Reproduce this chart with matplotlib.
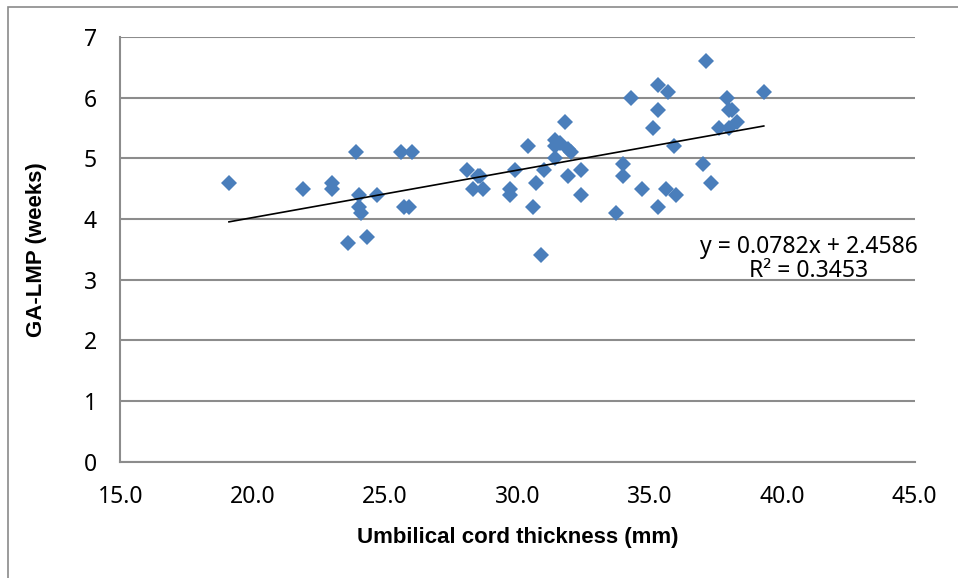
import matplotlib.pyplot as plt
from matplotlib.patches import Rectangle

# umbilical cord thickness (mm) vs GA-LMP (weeks)
thickness = [19.1, 21.9, 23.0, 23.0, 23.9, 24.0, 24.0, 24.1, 23.6, 24.3, 24.7, 25.6, 26.0, 25.7, 25.9,
             28.1, 28.3, 28.5, 28.6, 28.7, 29.7, 29.7, 29.9, 30.4, 30.6, 30.7, 30.9, 31.0,
             31.4, 31.4, 31.4, 31.6, 31.8, 31.9, 32.0, 31.9, 32.4, 32.4,
             33.7, 34.0, 34.0, 34.3, 34.7, 35.1, 35.3, 35.3, 35.3, 35.6, 35.7, 35.9, 36.0,
             37.0, 37.1, 37.3, 37.6, 37.9, 38.0, 38.1, 38.0, 38.3, 39.3]
ga_lmp = [4.6, 4.5, 4.6, 4.5, 5.1, 4.4, 4.2, 4.1, 3.6, 3.7, 4.4, 5.1, 5.1, 4.2, 4.2,
          4.8, 4.5, 4.7, 4.7, 4.5, 4.5, 4.4, 4.8, 5.2, 4.2, 4.6, 3.4, 4.8,
          5.3, 5.2, 5.0, 5.25, 5.6, 5.15, 5.1, 4.7, 4.8, 4.4,
          4.1, 4.9, 4.7, 6.0, 4.5, 5.5, 6.2, 5.8, 4.2, 4.5, 6.1, 5.2, 4.4,
          4.9, 6.6, 4.6, 5.5, 6.0, 5.8, 5.8, 5.5, 5.6, 6.1]
slope, intercept, r2 = 0.0782, 2.4586, 0.3453

x_ticks = [15, 20, 25, 30, 35, 40, 45]
y_ticks = [0, 1, 2, 3, 4, 5, 6, 7]

plt.rcParams['font.family'] = ['Noto Sans', 'DejaVu Sans']

fig = plt.figure(figsize=(9.58, 5.78), dpi=100)
ax = fig.add_axes([120.4 / 958, 1 - 461.7 / 578, 794.3 / 958, 424.8 / 578])

# outer chart border
fig.patches.append(Rectangle((8 / 958, -0.1), 1.2, 1.1 - 7 / 578, transform=fig.transFigure,
                             fill=False, edgecolor='#8a8a8a', linewidth=1.2))

ax.set_xlim(15, 45)
ax.set_ylim(0, 7)
ax.set_xticks(x_ticks)
ax.set_xticklabels(['%.1f' % v for v in x_ticks])
ax.set_yticks(y_ticks)
ax.tick_params(length=0, labelsize=16.5)
ax.tick_params(axis='y', pad=17)
ax.tick_params(axis='x', pad=17)
ax.yaxis.grid(True, color='#8c8c8c', linewidth=1.5)
ax.set_axisbelow(True)
for s in ['top', 'right']:
    ax.spines[s].set_visible(False)
for s in ['left', 'bottom']:
    ax.spines[s].set_color('#8c8c8c')
    ax.spines[s].set_linewidth(1.5)

ax.plot(thickness, ga_lmp, 'D', color='#4a7ebb', markersize=8, markeredgewidth=0, zorder=3)
xs = [min(thickness), max(thickness)]
ax.plot(xs, [slope * v + intercept for v in xs], color='black', linewidth=1.2, zorder=4)

ax.text(41.0, 3.44, 'y = %.4fx + %.4f' % (slope, intercept), ha='center', va='baseline', fontsize=16.5)
ax.text(41.0, 3.04, 'R² = %.4f' % r2, ha='center', va='baseline', fontsize=16.5)

fig.text(517.5 / 958, 1 - 537 / 578, 'Umbilical cord thickness (mm)', ha='center', va='center',
         fontsize=16, fontweight='bold', family=['Liberation Sans', 'DejaVu Sans'])
fig.text(37 / 958, 1 - 249.5 / 578, 'GA-LMP (weeks)', ha='center', va='center', rotation=90,
         fontsize=16, fontweight='bold', family=['Liberation Sans', 'DejaVu Sans'])

fig.savefig('out.png', dpi=100)
